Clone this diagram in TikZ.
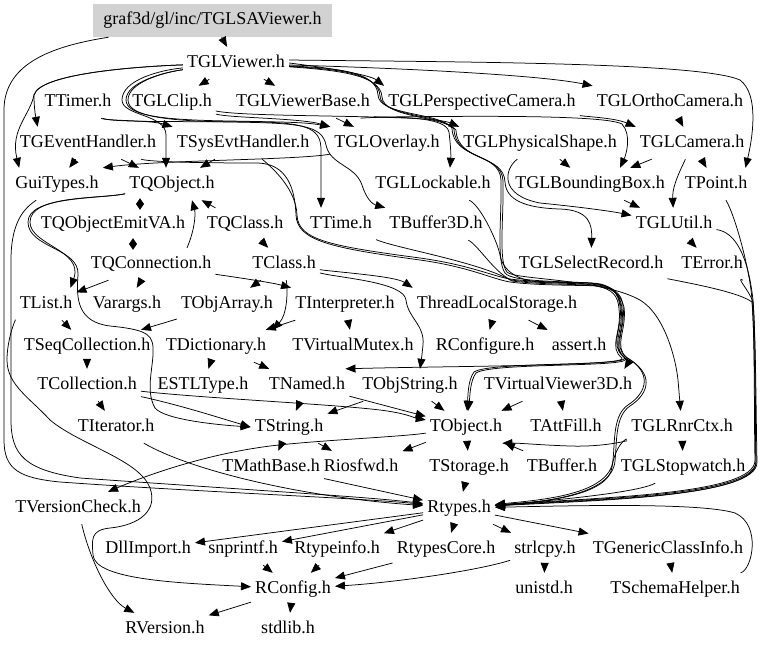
\documentclass[tikz,border=0pt]{standalone}
\usepackage{fontspec}
\setmainfont{Liberation Serif}
\usetikzlibrary{arrows.meta}
\newcommand\gvfont{\fontsize{18}{21}\selectfont}
\begin{document}
\begin{tikzpicture}[x=1pt,y=-1pt,
  nd/.style={inner xsep=4pt, inner ysep=0pt, minimum height=32pt, text height=12pt, text depth=4pt, font=\gvfont},
  sabox/.style={nd, fill=gray!35, minimum width=239pt, minimum height=33pt},
  e/.style={-{Triangle[length=10pt,width=8pt]}, line width=0.75pt},
  ee/.style={{Triangle[length=6pt,width=8pt]}-{Triangle[length=6pt,width=8pt]}, line width=0.75pt}]
\fill[white] (0,0) rectangle (768,649);
\useasboundingbox (0,0) rectangle (768,649);
% nodes
\node[sabox] (sa) at (212.5,20.5) {graf3d/gl/inc/TGLSAViewer.h};
\node[nd] (glv) at (236,63) {TGLViewer.h};
\node[nd] (timer) at (78,102) {TTimer.h};
\node[nd] (clip) at (172,102) {TGLClip.h};
\node[nd] (vbase) at (303,102) {TGLViewerBase.h};
\node[nd] (pcam) at (482,102) {TGLPerspectiveCamera.h};
\node[nd] (ocam) at (670,102) {TGLOrthoCamera.h};
\node[nd] (geh) at (88,143) {TGEventHandler.h};
\node[nd] (seh) at (243,143) {TSysEvtHandler.h};
\node[nd] (ovl) at (387,143) {TGLOverlay.h};
\node[nd] (pshape) at (540,143) {TGLPhysicalShape.h};
\node[nd] (cam) at (692,143) {TGLCamera.h};
\node[nd] (gui) at (57,184) {GuiTypes.h};
\node[nd] (qobj) at (172,184) {TQObject.h};
\node[nd] (lock) at (433,184) {TGLLockable.h};
\node[nd] (bbox) at (590,184) {TGLBoundingBox.h};
\node[nd] (point) at (716,184) {TPoint.h};
\node[nd] (emit) at (113,224) {TQObjectEmitVA.h};
\node[nd] (qclass) at (245,224) {TQClass.h};
\node[nd] (time) at (341,224) {TTime.h};
\node[nd] (buf3d) at (436,224) {TBuffer3D.h};
\node[nd] (util) at (674,224) {TGLUtil.h};
\node[nd] (qconn) at (151,264) {TQConnection.h};
\node[nd] (class) at (284,264) {TClass.h};
\node[nd] (selrec) at (591,264) {TGLSelectRecord.h};
\node[nd] (error) at (712,264) {TError.h};
\node[nd] (list) at (46,304) {TList.h};
\node[nd] (varargs) at (127,304) {Varargs.h};
\node[nd] (objarr) at (227,304) {TObjArray.h};
\node[nd] (interp) at (345,304) {TInterpreter.h};
\node[nd] (tls) at (497,304) {ThreadLocalStorage.h};
\node[nd] (seqc) at (87,346) {TSeqCollection.h};
\node[nd] (dict) at (216,346) {TDictionary.h};
\node[nd] (mutex) at (353,346) {TVirtualMutex.h};
\node[nd] (rconfigure) at (485,346) {RConfigure.h};
\node[nd] (assert) at (579,346) {assert.h};
\node[nd] (coll) at (87,385) {TCollection.h};
\node[nd] (estl) at (203,385) {ESTLType.h};
\node[nd] (named) at (307,385) {TNamed.h};
\node[nd] (objstr) at (410,385) {TObjString.h};
\node[nd] (vv3d) at (558,385) {TVirtualViewer3D.h};
\node[nd] (iter) at (116,427) {TIterator.h};
\node[nd] (string) at (289,427) {TString.h};
\node[nd] (object) at (466,427) {TObject.h};
\node[nd] (attfill) at (566,427) {TAttFill.h};
\node[nd] (rnrctx) at (682,427) {TGLRnrCtx.h};
\node[nd] (mathbase) at (271,467) {TMathBase.h};
\node[nd] (riosfwd) at (361,467) {Riosfwd.h};
\node[nd] (storage) at (469,467) {TStorage.h};
\node[nd] (buffer) at (562,467) {TBuffer.h};
\node[nd] (stopwatch) at (683,467) {TGLStopwatch.h};
\node[nd] (vcheck) at (78,508) {TVersionCheck.h};
\node[nd] (rtypes) at (459,508) {Rtypes.h};
\node[nd] (dll) at (148,549) {DllImport.h};
\node[nd] (snprintf) at (243,549) {snprintf.h};
\node[nd] (rtypeinfo) at (337,549) {Rtypeinfo.h};
\node[nd] (rtypescore) at (446,549) {RtypesCore.h};
\node[nd] (strlcpy) at (545,549) {strlcpy.h};
\node[nd] (gci) at (668,549) {TGenericClassInfo.h};
\node[nd] (rconfig) at (293,589) {RConfig.h};
\node[nd] (unistd) at (544,589) {unistd.h};
\node[nd] (schema) at (675,589) {TSchemaHelper.h};
\node[nd] (rversion) at (165,629) {RVersion.h};
\node[nd] (stdlib) at (288,629) {stdlib.h};
% edges: top
\draw[e] (sa) -- (glv);
\draw[e] (sa) .. controls (60,45) and (4,60) .. (4,110) -- (4,440) .. controls (4,470) and (20,478) .. (60,482) .. controls (200,492) and (360,498) .. (rtypes);
\draw[e] (gui) .. controls (30,205) and (11,215) .. (11,260) -- (11,420) .. controls (11,455) and (25,470) .. (80,478) .. controls (250,490) and (370,497) .. (rtypes);
\draw[e] (list) .. controls (15,320) and (7,340) .. (7,360) .. controls (7,385) and (30,398) .. (50,420) .. controls (80,445) and (140,460) .. (150,488) .. controls (158,510) and (140,525) .. (110,528) .. controls (90,530) and (92,540) .. (93,555) .. controls (95,580) and (180,583) .. (rconfig);
\draw[e] (glv) .. controls (150,66) and (40,72) .. (34,95) .. controls (30,115) and (10,130) .. ([xshift=8pt]gui.north west);
\draw[e] (glv) .. controls (150,66) and (40,72) .. (34,95) .. controls (34,110) and (36,118) .. ([xshift=22pt]geh.north west);
\draw[e] (glv) -- (clip);
\draw[e] (glv) -- (vbase);
\draw[e] (glv.east) .. controls (330,68) and (370,75) .. (pcam.north west);
\draw[e] ([yshift=-2pt]glv.east) .. controls (400,68) and (540,75) .. (ocam.north west);
\draw[e] ([yshift=3pt]glv.east) .. controls (450,62) and (700,62) .. (740,80) .. controls (760,95) and (752,140) .. ([xshift=-6pt]point.north east);
\draw[e] (glv) .. controls (160,70) and (122,80) .. (122,100) .. controls (122,116) and (166,114) .. (166,135) -- ([xshift=-6pt]qobj.north);
\draw[e] (glv) .. controls (165,72) and (126,82) .. (126,100) .. controls (126,117) and (170,120) .. (230,121) .. controls (280,122) and (305,122) .. (ovl.north west);
\draw[e] (glv) .. controls (165,72) and (128,82) .. (128,100) .. controls (128,117) and (170,121) .. (230,122) .. controls (300,123) and (322,125) .. (326,145) .. controls (330,165) and (355,165) .. (362,185) .. controls (366,198) and (372,204) .. (buf3d.north west);
% right bundle from TGLViewer
\draw[e] (glv) .. controls (330,68) and (377,70) .. (378,95) .. controls (379,116) and (440,112) .. (452,128) .. controls (453,160) and (500,152) .. (501,180) .. controls (502,215) and (496,260) .. (505,273) .. controls (512,282) and (560,281) .. (590,283) .. controls (612,285) and (618,292) .. (620,306) .. controls (623,329) and (609,344) .. (623,356) .. controls (628,361) and (628,363) .. ([xshift=-12pt]vv3d.north east);
\draw[e] (glv) .. controls (332,69) and (379,72) .. (380,96) .. controls (381,117) and (442,114) .. (454,129) .. controls (455,161) and (502,153) .. (503,181) .. controls (504,216) and (498,261) .. (507,272) .. controls (514,280) and (600,278) .. (640,300) .. controls (665,315) and (676,360) .. (678,380) -- (rnrctx);
\draw[e] (glv) .. controls (334,70) and (381,74) .. (382,97) .. controls (383,118) and (444,116) .. (456,130) .. controls (457,162) and (504,154) .. (505,182) .. controls (506,200) and (525,208) .. (560,209) .. controls (590,210) and (592,225) .. (selrec);
% row 2-3
\draw[e] (timer) .. controls (105,121) and (150,120) .. (seh.north west);
\draw[e] (timer) .. controls (110,123) and (200,121) .. (260,122) .. controls (310,123) and (321,130) .. (321,150) -- ([xshift=-20pt]time.north);
\draw[e] (clip) .. controls (230,118) and (300,118) .. (ovl.north west);
\draw[e] (clip) .. controls (250,118) and (430,114) .. (pshape.north west);
\draw[e] (vbase) -- (ovl);
\draw[e] (vbase) .. controls (380,118) and (600,112) .. (622,124) .. controls (632,135) and (626,155) .. ([xshift=30pt]bbox.north);
\draw[e] (vbase) .. controls (360,118) and (446,112) .. (449,132) .. controls (451,150) and (451,156) .. ([xshift=-45pt]lock.north east);
\draw[e] (pcam) .. controls (590,117) and (615,118) .. (cam.north west);
\draw[e] (ocam) -- (cam);
\draw[e] (cam) -- (bbox);
\draw[e] (cam) -- (point);
\draw[e] (cam) .. controls (683,165) and (672,185) .. (util);
\draw[e] (pshape) -- (bbox);
\draw[e] (pshape) .. controls (505,168) and (498,195) .. (540,203) .. controls (590,208) and (615,212) .. (util);
\draw[e] (bbox) -- (util);
\draw[e] (util) -- (error);
\draw[e] (geh) -- (gui);
\draw[e] (geh) -- (qobj);
\draw[e] (seh) -- (qobj);
\draw[e] (ovl) .. controls (300,160) and (160,160) .. (gui.north east);
% TQObject cluster
\draw[ee] ([xshift=-32pt,yshift=2pt]qobj.south) -- ([xshift=27pt,yshift=-2pt]emit.north);
\draw[ee] ([xshift=20pt,yshift=2pt]emit.south) -- ([xshift=-18pt,yshift=-2pt]qconn.north);
\draw[e] ([xshift=36pt]qconn.north) .. controls (194,232) and (196,215) .. ([xshift=20pt]qobj.south);
\draw[e] (qclass) -- (qobj);
\draw[e] (qclass) -- (class);
\draw[e] (qobj) .. controls (100,199) and (30,195) .. (30,222) .. controls (30,245) and (84,250) .. ([xshift=-6pt]list.north east);
\draw[e] (qobj) .. controls (100,199) and (28,196) .. (28,222) .. controls (28,248) and (80,248) .. (78,275) .. controls (76,300) and (78,322) .. (110,326) .. controls (150,330) and (154,335) .. (153,355) .. controls (152,372) and (146,392) .. (155,408) .. controls (165,420) and (220,425) .. (string.west);
\draw[e] (qconn) -- (list);
\draw[e] (qconn) -- (varargs);
\draw[e] (qconn) .. controls (220,275) and (270,282) .. (interp.north west);
\draw[e] (class) -- (objarr);
\draw[e] (class) .. controls (288,292) and (287,315) .. ([xshift=2pt]dict.north east);
\draw[e] (class) .. controls (335,272) and (395,276) .. (tls.north west);
\draw[e] (class) .. controls (340,278) and (404,282) .. (406,300) .. controls (408,318) and (425,325) .. (423,345) .. controls (422,355) and (421,362) .. ([xshift=10pt]objstr.north);
\draw[e] (interp) -- (dict);
\draw[e] (interp) -- (mutex);
\draw[e] (objarr) -- (seqc);
\draw[e] (list) -- (seqc);
\draw[e] (seqc) -- (coll);
\draw[e] (dict) -- (estl);
\draw[e] (dict) -- (named);
\draw[e] (tls) -- (rconfigure);
\draw[e] (tls) -- (assert);
\draw[e] (coll) -- (iter);
\draw[e] (coll) .. controls (180,405) and (220,418) .. (string.west);
\draw[e] (coll) .. controls (200,398) and (330,404) .. (380,410) .. controls (405,413) and (415,418) .. (object);
\draw[e] (named) -- (string);
\draw[e] (named) -- (object);
\draw[e] (objstr) -- (string);
\draw[e] (objstr) -- (object);
\draw[e] (vv3d) -- (object);
\draw[e] (vv3d) -- (attfill);
% left bundle
\draw[e] (seh) .. controls (275,170) and (296,190) .. (297,215) .. controls (298,240) and (330,246) .. (420,258) .. controls (470,265) and (492,276) .. (510,279) .. controls (540,283) and (590,282) .. (597,284) .. controls (614,287) and (619,294) .. (621,307) .. controls (624,331) and (610,346) .. (624,357) .. controls (637,367) and (490,361) .. (474,372) .. controls (468,380) and (468,395) .. (object);
\draw[e] (buf3d) .. controls (478,245) and (494,272) .. (511,280) .. controls (541,284) and (590,283) .. (598,285) .. controls (615,288) and (620,295) .. (622,308) .. controls (625,332) and (611,347) .. (625,358) .. controls (638,368) and (492,362) .. (476,373) .. controls (470,381) and (470,396) .. (object);
\draw[e] (lock) .. controls (480,205) and (497,240) .. (500,255) .. controls (503,272) and (520,281) .. (540,282) .. controls (580,283) and (596,282) .. (604,285) .. controls (617,290) and (622,296) .. (623,306) .. controls (626,330) and (612,345) .. (626,357) .. controls (652,372) and (648,392) .. (628,405) .. controls (613,415) and (615,440) .. (613,460) .. controls (610,495) and (540,500) .. (rtypes);
\draw[e] (time) .. controls (395,248) and (480,262) .. (512,281) .. controls (542,285) and (590,284) .. (599,286) .. controls (616,289) and (621,297) .. (624,307) .. controls (627,331) and (613,346) .. (627,358) .. controls (654,373) and (650,393) .. (630,406) .. controls (615,416) and (617,441) .. (615,461) .. controls (612,496) and (540,502) .. (rtypes);
\draw[e] (geh) .. controls (150,162) and (200,163) .. (258,163) .. controls (288,164) and (295,190) .. (296,215) .. controls (297,241) and (332,248) .. (420,260) .. controls (470,267) and (492,279) .. (510,282) .. controls (540,286) and (590,285) .. (596,286) .. controls (613,289) and (618,296) .. (619,309) .. controls (622,332) and (608,347) .. (622,358) .. controls (631,366) and (450,366) .. ([xshift=-4pt]named.north east);
% right column into Rtypes
\draw[e] (point) .. controls (735,215) and (750,270) .. (752,300) .. controls (755,340) and (754,420) .. (755,460) .. controls (756,495) and (600,497) .. (rtypes);
\draw[e] (util) .. controls (735,232) and (748,255) .. (753,300) .. controls (756,340) and (755,420) .. (756,461) .. controls (757,496) and (600,498) .. (rtypes);
\draw[e] (error) .. controls (735,276) and (749,290) .. (753,302) .. controls (756,340) and (756,420) .. (757,462) .. controls (758,497) and (600,499) .. (rtypes);
\draw[e] (selrec) .. controls (700,285) and (740,293) .. (752,302) .. controls (755,340) and (755,420) .. (756,462) .. controls (757,497) and (600,500) .. (rtypes);
\draw[e] (rnrctx) -- (stopwatch);
\draw[e] (rnrctx) .. controls (622,440) and (614,452) .. (612,467) .. controls (609,495) and (545,502) .. (rtypes);
\draw[e] (rnrctx) .. controls (622,442) and (600,447) .. (570,446) .. controls (540,445) and (520,443) .. ([xshift=-4pt]object.south east);
\draw[e] (stopwatch) .. controls (640,492) and (560,500) .. (rtypes);
\draw[e] (schema) .. controls (752,570) and (762,525) .. (735,513) .. controls (700,502) and (560,506) .. (rtypes);
% lower part
\draw[e] (buffer) -- (object);
\draw[e] (object) -- (storage);
\draw[e] (object) -- (riosfwd);
\draw[e] (object) .. controls (400,437) and (320,440) .. (270,446) .. controls (200,455) and (140,478) .. ([xshift=30pt]vcheck.north);
\draw[e] (string) -- (mathbase);
\draw[e] (string) -- (riosfwd);
\draw[e] (mathbase) -- (rtypes);
\draw[e] (storage) -- (rtypes);
\draw[e] (iter) .. controls (190,470) and (300,497) .. (rtypes);
\draw[e] (rtypes) -- (dll);
\draw[e] (rtypes) -- (snprintf);
\draw[e] (rtypes) -- (rtypeinfo);
\draw[e] (rtypes) -- (rtypescore);
\draw[e] (rtypes) -- (strlcpy);
\draw[e] (rtypes) -- (gci);
\draw[e] (gci) -- (schema);
\draw[e] (rtypescore) -- (rconfig);
\draw[e] (strlcpy) .. controls (480,570) and (400,582) .. (rconfig);
\draw[e] (strlcpy) -- (unistd);
\draw[e] (snprintf) -- (rconfig);
\draw[e] (rtypeinfo) -- (rconfig);
\draw[e] (rconfig) -- (rversion);
\draw[e] (rconfig) -- (stdlib);
\draw[e] (vcheck) .. controls (90,560) and (110,600) .. (rversion);
\end{tikzpicture}
\end{document}
